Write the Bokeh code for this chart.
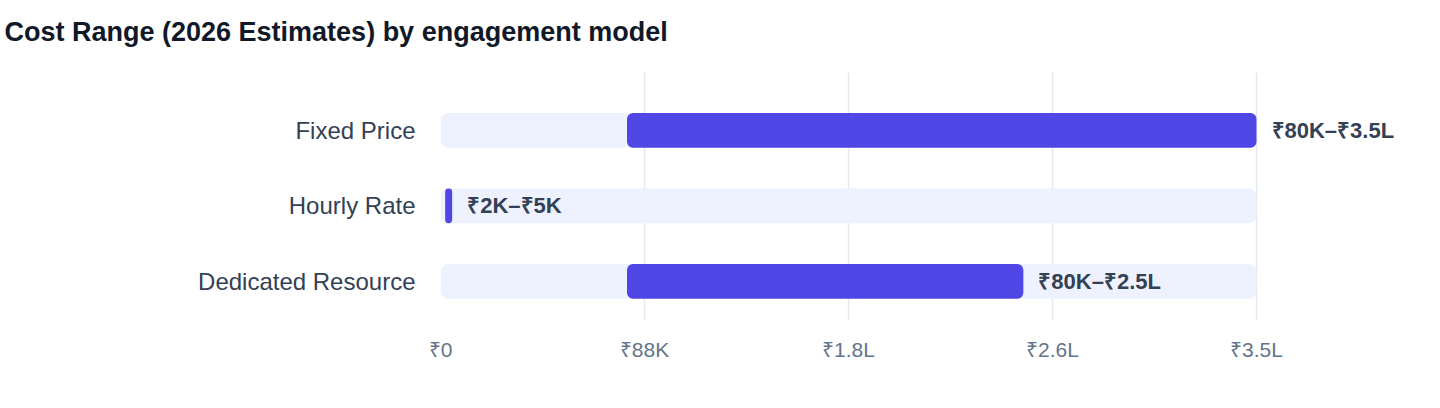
from bokeh.plotting import figure
from bokeh.models import Range1d, FixedTicker, LabelSet, ColumnDataSource, Title
from bokeh.core.properties import value
from bokeh.embed import file_html
from bokeh.resources import INLINE

title_text = "Cost Range (2026 Estimates) by engagement model"
categories = ["Fixed Price", "Hourly Rate", "Dedicated Resource"]
low_values = [80000, 2000, 80000]
high_values = [350000, 5000, 250000]
range_labels = ["₹80K–₹3.5L", "₹2K–₹5K", "₹80K–₹2.5L"]
axis_max = 350000
tick_values = [0, 87500, 175000, 262500, 350000]
tick_labels = ["₹0", "₹88K", "₹1.8L", "₹2.6L", "₹3.5L"]

FONT = "Liberation Sans"
positions = list(range(len(categories)))

# layout: the track (0..axis_max) spans 816 px; the frame extends further right
# so that the value labels beyond the track are not clipped
W, H = 1432, 400
BORDER_L, BORDER_R = 440, 8
TRACK_PX = 816
frame_w = W - BORDER_L - BORDER_R
x_end = axis_max * frame_w / TRACK_PX

src = ColumnDataSource(dict(
    y=positions,
    lo=low_values,
    hi=high_values,
    zero=[0] * len(categories),
    full=[axis_max] * len(categories),
    lab=range_labels,
))

p = figure(
    width=W, height=H,
    x_range=Range1d(0, x_end),
    y_range=Range1d(2.517, -0.768),
    output_backend="svg", toolbar_location=None,
    min_border_left=BORDER_L, min_border_right=BORDER_R,
    min_border_top=72, min_border_bottom=80,
)
p.outline_line_color = None
p.background_fill_color = "white"
p.border_fill_color = "white"

# small spacer panel between the frame and the title, then the title itself
p.add_layout(Title(text=" ", text_font_size="8px", standoff=0), "above")
p.add_layout(Title(text=title_text, align="left", offset=-436, vertical_align="top",
                   text_font=FONT, text_font_style="bold",
                   text_font_size="27px", text_color="#111827", standoff=26), "above")

# track bars
p.hbar(y="y", left="zero", right="full", height=0.46, source=src,
       fill_color="#eef2ff", line_color=None, border_radius=8)
# range bars
p.hbar(y="y", left="lo", right="hi", height=0.46, source=src,
       fill_color="#4f46e5", line_color=None, border_radius=6)
# value labels
p.add_layout(LabelSet(x="hi", y="y", text="lab", source=src, x_offset=15,
                      text_baseline="middle", text_align="left",
                      text_font=value(FONT), text_font_style="bold",
                      text_font_size="22px", text_color="#334155"))

# axes
p.xaxis.ticker = FixedTicker(ticks=tick_values)
p.xaxis.major_label_overrides = {t: l for t, l in zip(tick_values, tick_labels)}
p.xaxis.axis_line_color = None
p.xaxis.major_tick_line_color = None
p.xaxis.minor_tick_line_color = None
p.xaxis.major_label_standoff = 11
p.xaxis.major_label_text_font = FONT
p.xaxis.major_label_text_font_size = "21px"
p.xaxis.major_label_text_color = "#64748b"

p.yaxis.ticker = FixedTicker(ticks=positions)
p.yaxis.major_label_overrides = {i: c for i, c in zip(positions, categories)}
p.yaxis.axis_line_color = None
p.yaxis.major_tick_line_color = None
p.yaxis.minor_tick_line_color = None
p.yaxis.major_label_standoff = 19
p.yaxis.major_label_text_font = FONT
p.yaxis.major_label_text_font_size = "24px"
p.yaxis.major_label_text_color = "#334155"

p.xgrid.grid_line_color = "#e2e8f0"
p.xgrid.grid_line_width = 1.5
p.ygrid.grid_line_color = None

open("out.html", "w").write(file_html(p, INLINE))
